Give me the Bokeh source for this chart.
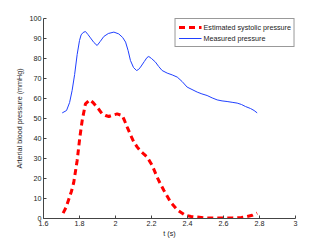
from bokeh.plotting import figure
from bokeh.models import FixedTicker, CustomJSTickFormatter, Range1d
from bokeh.embed import file_html
from bokeh.resources import INLINE

# Measured pressure (blue)
t_meas = [1.704, 1.728, 1.745, 1.759, 1.773, 1.787, 1.800, 1.809, 1.820, 1.833, 1.847, 1.861,
          1.880, 1.898, 1.915, 1.935, 1.960, 1.991, 2.018, 2.040, 2.056, 2.070, 2.083, 2.100,
          2.117, 2.128, 2.139, 2.160, 2.175, 2.185, 2.200, 2.222, 2.240, 2.259, 2.287, 2.315,
          2.343, 2.370, 2.398, 2.425, 2.454, 2.480, 2.509, 2.537, 2.565, 2.592, 2.620, 2.648,
          2.676, 2.700, 2.722, 2.750, 2.770, 2.787]
v_meas = [52.8, 54.0, 58.0, 64.0, 72.0, 82.0, 89.0, 91.8, 93.0, 93.5, 92.0, 90.3,
          88.0, 86.5, 88.5, 91.0, 92.5, 93.2, 92.3, 90.5, 88.2, 84.0, 79.0, 75.5,
          74.0, 74.5, 75.7, 78.5, 80.5, 81.0, 80.0, 78.2, 76.0, 74.0, 72.7, 71.8,
          70.7, 68.5, 65.7, 64.5, 63.2, 62.3, 61.5, 60.3, 59.3, 58.8, 58.5, 58.1,
          57.7, 57.0, 56.0, 55.0, 54.0, 52.8]

# Estimated systolic pressure (red dashed)
t_est = [1.709, 1.725, 1.741, 1.755, 1.768, 1.787, 1.802, 1.815, 1.833, 1.857, 1.875, 1.889,
         1.908, 1.926, 1.945, 1.963, 1.985, 2.009, 2.037, 2.050, 2.065, 2.085, 2.102, 2.120,
         2.139, 2.158, 2.176, 2.204, 2.231, 2.250, 2.269, 2.306, 2.343, 2.389, 2.420, 2.454,
         2.500, 2.550, 2.600, 2.650, 2.700, 2.731, 2.760, 2.787]
v_est = [2.7, 5.5, 9.8, 13.5, 18.0, 29.0, 40.7, 49.0, 57.3, 59.3, 58.0, 56.5,
         54.5, 52.3, 51.5, 51.0, 51.7, 52.3, 51.5, 49.0, 45.7, 41.5, 38.2, 35.8,
         33.7, 32.2, 30.7, 26.5, 20.7, 17.2, 14.0, 8.2, 4.3, 1.5, 1.0, 0.7,
         0.3, 0.2, 0.2, 0.3, 0.5, 1.0, 1.6, 2.7]

x_ticks = [1.6, 1.8, 2.0, 2.2, 2.4, 2.6, 2.8, 3.0]
y_ticks = [0, 10, 20, 30, 40, 50, 60, 70, 80, 90, 100]

FONT = "Liberation Sans"
FS = "7.2px"

p = figure(width=327, height=246, output_backend="svg", toolbar_location=None,
           x_range=Range1d(1.6, 3.0), y_range=Range1d(0, 100),
           min_border_left=43, min_border_right=32, min_border_top=18, min_border_bottom=28)

p.line(t_est, v_est, line_color="red", line_width=3, line_dash="6 4",
       legend_label="Estimated systolic pressure")
p.line(t_meas, v_meas, line_color="#2040ff", line_width=1,
       legend_label="Measured pressure")

p.outline_line_color = None
p.grid.visible = False
p.background_fill_color = "white"
p.border_fill_color = "white"

for ax in (p.xaxis[0], p.yaxis[0]):
    ax.axis_line_color = "#444444"
    ax.major_tick_line_color = "#444444"
    ax.major_tick_in = 3
    ax.major_tick_out = 0
    ax.minor_tick_line_color = None
    ax.major_label_text_font = FONT
    ax.major_label_text_font_size = FS
    ax.major_label_text_color = "#222222"
    ax.axis_label_text_font = FONT
    ax.axis_label_text_font_size = FS
    ax.axis_label_text_font_style = "normal"
    ax.axis_label_text_color = "#222222"
    ax.major_label_standoff = 2

p.xaxis.axis_label_standoff = 0
p.yaxis.axis_label_standoff = 3

p.xaxis.ticker = FixedTicker(ticks=x_ticks)
p.yaxis.ticker = FixedTicker(ticks=y_ticks)
p.xaxis.formatter = CustomJSTickFormatter(code="return String(Math.round(tick*10)/10);")
p.yaxis.formatter = CustomJSTickFormatter(code="return String(Math.round(tick));")
p.xaxis.axis_label = "t (s)"
p.yaxis.axis_label = "Arterial blood pressure (mmHg)"

lg = p.legend[0]
lg.location = "top_right"
lg.margin = 0
lg.padding = 3
lg.spacing = 1
lg.label_height = 10
lg.glyph_height = 10
lg.glyph_width = 23
lg.label_standoff = 2
lg.label_text_font = FONT
lg.label_text_font_size = FS
lg.label_text_color = "#222222"
lg.border_line_color = "#333333"
lg.border_line_width = 1
lg.background_fill_alpha = 1.0

open("out.html", "w").write(file_html(p, INLINE))
